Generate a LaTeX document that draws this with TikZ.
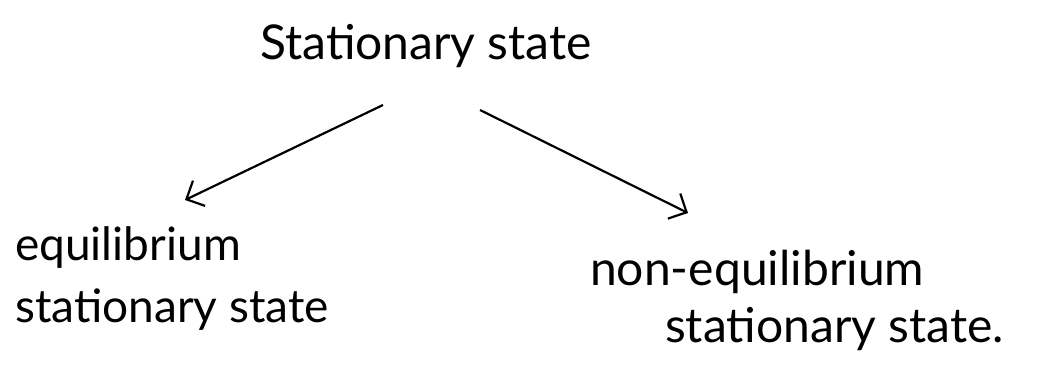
\documentclass[tikz,border=0pt]{standalone}
\usepackage{fontspec}
\setmainfont{Lato}
\usetikzlibrary{arrows.meta}
\begin{document}
\begin{tikzpicture}[x=1pt,y=-1pt,
  lbl/.style={inner sep=0pt, align=left},
  arr/.style={line width=2.2pt, -{Straight Barb[length=14pt,width=28pt,line width=2.2pt]}}]
\useasboundingbox (0,0) rectangle (1041,371);
\node[lbl, anchor=center, font=\fontsize{48}{60}\selectfont] (top) at (426,46) {Stationary state};
\node[lbl, anchor=north west, font=\fontsize{46}{62}\selectfont] (left) at (15,226) {equilibrium\\stationary state};
\node[lbl, anchor=north west, font=\fontsize{48}{57}\selectfont] (right) at (590,250) {non-equilibrium\\\hspace*{75pt}stationary state.};
\coordinate (ls) at (383,105);
\coordinate (le) at (185,200);
\coordinate (rs) at (480,110);
\coordinate (re) at (688,213);
\draw[arr] (ls) -- (le);
\draw[arr] (rs) -- (re);
\end{tikzpicture}
\end{document}
